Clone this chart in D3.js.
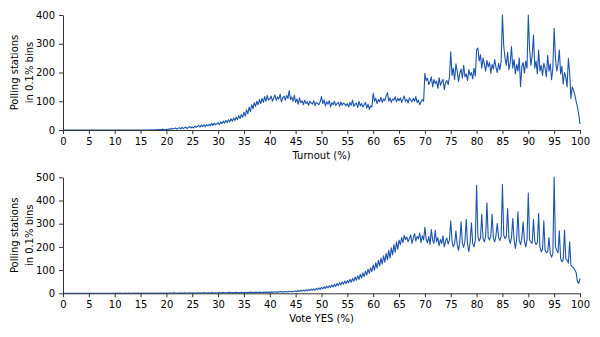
<!DOCTYPE html>
<html>
<head>
<meta charset="utf-8">
<script src="https://cdn.jsdelivr.net/npm/d3@7"></script>
<style>
  body { margin: 0; background: #fff; }
  svg { display: block; font-family: "DejaVu Sans", sans-serif; }
  .axis text { font-size: 10px; fill: #000; }
  .axis path, .axis line { stroke: #333; }
  .label { font-size: 10px; fill: #000; }
</style>
</head>
<body>
<svg id="chart" width="600" height="337"></svg>
<script>
// polling stations per 0.25% step of turnout / yes vote
const binStep = 0.25;

const turnoutCounts = [
  0,0,0,0,0,0,0,0,0,0,0,0,0,0,0,0,0,0,0,0,
  0,0,0,0,0,0,0,0,0,0,0,0,0,0,0,0,0,0,0,0,
  0,0,0,0,0,0,0,0,0,0,0,0,0,0,0,0,0,0,0,0,
  0,0,0,0,0,0,0,0,1,0,1,1,0,2,1,2,1,3,2,1,
  3,1,4,2,6,3,5,7,3,6,8,4,9,5,8,10,5,9,12,7,
  11,7,14,9,13,16,10,17,12,18,11,19,14,20,15,23,16,24,18,22,
  25,18,28,22,31,24,33,26,36,28,39,30,42,33,45,36,50,40,54,44,
  62,48,70,56,80,64,88,74,95,82,100,88,106,92,110,96,116,100,120,104,
  108,118,100,112,122,103,115,108,125,98,112,118,104,120,110,137,106,115,100,121,
  96,108,90,112,95,102,88,104,92,98,86,100,94,90,102,85,96,92,88,98,
  116,92,104,84,98,90,102,80,95,88,100,85,92,96,82,98,86,94,90,84,
  92,80,96,86,104,82,90,94,78,100,84,92,80,88,96,76,90,72,84,80,
  128,100,110,92,106,98,114,96,108,102,118,130,100,112,96,108,104,116,98,110,
  102,112,96,108,118,100,106,94,112,104,98,110,100,116,95,104,88,98,106,100,
  197,172,180,158,168,185,150,175,162,170,145,182,155,168,176,140,164,172,158,185,
  272,190,215,175,230,205,168,198,212,180,225,185,195,172,210,190,200,178,215,188,
  278,285,240,262,215,250,230,205,242,220,235,198,228,212,245,218,200,232,210,238,
  400,292,250,225,270,210,232,290,215,245,195,228,205,250,151,220,235,198,240,215,
  400,280,225,260,330,215,240,195,278,205,225,190,232,215,185,260,205,230,175,215,
  354,250,205,230,278,195,222,160,200,185,150,249,200,110,150,139,122,100,80,55,
  21
];

const yesCounts = [
  0,0,0,0,0,0,0,0,0,0,0,0,0,0,0,0,0,0,0,0,
  0,0,0,0,0,0,0,0,0,0,0,0,0,0,0,0,0,0,0,0,
  0,1,0,0,1,0,0,0,1,0,0,1,0,0,0,1,0,0,1,0,
  0,1,0,1,0,0,1,0,1,0,1,0,0,1,0,1,1,0,1,0,
  1,0,1,1,0,1,2,1,0,1,1,2,0,1,2,1,1,0,2,1,
  1,2,1,0,2,1,2,1,1,3,1,2,1,2,1,3,2,1,2,1,
  2,3,1,2,3,2,1,3,2,4,2,3,2,3,4,2,3,2,4,3,
  3,4,2,4,3,5,3,4,3,5,4,3,5,4,3,5,4,6,4,5,
  4,6,5,4,7,5,6,5,8,6,7,5,8,7,6,9,7,8,7,9,
  10,7,12,8,13,9,14,10,15,11,16,12,18,13,19,14,21,16,23,17,
  26,19,28,21,31,23,33,25,36,27,39,30,42,33,46,36,49,39,53,42,
  55,45,60,48,64,52,70,56,76,60,82,66,88,72,96,78,104,86,110,94,
  122,100,132,108,142,118,152,126,162,134,172,144,185,152,196,165,210,176,222,190,
  229,210,240,218,250,232,243,222,236,252,215,240,258,225,245,235,260,218,248,230,
  284,232,218,245,210,275,228,215,272,222,240,205,232,215,248,200,225,238,212,230,
  312,225,200,215,268,210,185,222,308,215,198,225,319,210,179,220,304,215,200,228,
  466,245,225,238,340,235,222,245,390,240,230,248,341,238,222,250,301,240,228,245,
  470,250,236,245,365,238,215,240,322,230,193,235,351,228,210,238,308,225,200,230,
  432,230,222,215,318,225,210,218,344,200,179,190,312,185,175,180,240,172,156,170,
  501,200,186,175,269,150,136,145,272,150,143,130,222,120,114,110,100,90,50,43,
  64
];

const xTicks = d3.range(0, 101, 5);
const turnoutYTicks = [0, 100, 200, 300, 400];
const yesYTicks = [0, 100, 200, 300, 400, 500];

const svg = d3.select('#chart');
const left = 63;
const right = 580;

const x = d3.scaleLinear().domain([0, 100]).range([left, right]);

function drawPanel(counts, yMax, yTicks, top, bottom, xLabel) {
  const y = d3.scaleLinear().domain([0, yMax]).range([bottom, top]);

  const line = d3.line()
    .x((d, i) => x(i * binStep))
    .y(d => y(d));

  svg.append('path')
    .datum(counts)
    .attr('d', line)
    .attr('fill', 'none')
    .attr('stroke', '#1c54b0')
    .attr('stroke-width', 1.1)
    .attr('stroke-linejoin', 'round');

  svg.append('g')
    .attr('class', 'axis')
    .attr('transform', `translate(0,${bottom})`)
    .call(d3.axisBottom(x).tickValues(xTicks).tickSize(4).tickPadding(4).tickSizeOuter(0));

  svg.append('g')
    .attr('class', 'axis')
    .attr('transform', `translate(${left},0)`)
    .call(d3.axisLeft(y).tickValues(yTicks).tickSize(4).tickPadding(4).tickSizeOuter(0));

  svg.selectAll('.axis').attr('font-family', null).attr('font-size', null);

  svg.append('text')
    .attr('class', 'label')
    .attr('x', (left + right) / 2)
    .attr('y', bottom + 29)
    .attr('text-anchor', 'middle')
    .text(xLabel);

  const mid = (top + bottom) / 2;
  svg.append('text')
    .attr('class', 'label')
    .attr('transform', `translate(18,${mid}) rotate(-90)`)
    .attr('text-anchor', 'middle')
    .text('Polling stations');
  svg.append('text')
    .attr('class', 'label')
    .attr('transform', `translate(32.5,${mid}) rotate(-90)`)
    .attr('text-anchor', 'middle')
    .text('in 0.1% bins');
}

drawPanel(turnoutCounts, 400, turnoutYTicks, 15, 130, 'Turnout (%)');
drawPanel(yesCounts, 500, yesYTicks, 177.3, 293.3, 'Vote YES (%)');
</script>
</body>
</html>
